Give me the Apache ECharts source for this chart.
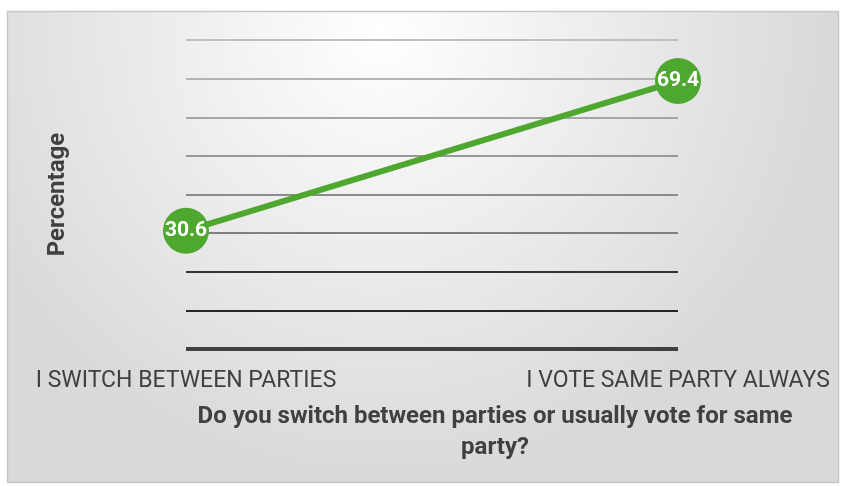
<!DOCTYPE html>
<html><head><meta charset="utf-8">
<script src="https://cdn.jsdelivr.net/npm/echarts@6/dist/echarts.min.js"></script>
<style>html,body{margin:0;padding:0;background:#fff}#c{width:845px;height:486px}</style>
</head><body><div id="c"></div>
<script>
const categories = ['I SWITCH BETWEEN PARTIES', 'I VOTE SAME PARTY ALWAYS'];
const values = [30.6, 69.4];
const xTitle = 'Do you switch between parties or usually vote for same\nparty?';
const yTitle = 'Percentage';

const chart = echarts.init(document.getElementById('c'));
chart.setOption({
  animation: false,
  graphic: [{
    type: 'rect', z: -10, silent: true,
    shape: { x: 7.5, y: 11.5, width: 831, height: 471 },
    style: {
      fill: { type: 'radial', x: 0.45, y: 0.05, r: 0.95,
        colorStops: [{ offset: 0, color: '#ffffff' }, { offset: 1, color: '#d9d9d9' }] },
      stroke: '#c6c6c6', lineWidth: 1.5
    }
  }],
  grid: { left: 186, right: 167, top: 40, bottom: 137 },
  xAxis: {
    type: 'category', data: categories, boundaryGap: false,
    axisLine: { show: false }, axisTick: { show: false },
    axisLabel: { margin: 21, fontSize: 23, color: '#404040', fontFamily: 'Roboto, sans-serif' },
    name: xTitle, nameLocation: 'middle', nameGap: 52,
    nameTextStyle: { fontSize: 24, fontWeight: 'bold', color: '#404040', lineHeight: 31,
      padding: [0, 0, 0, 126], fontFamily: 'Roboto, sans-serif' }
  },
  yAxis: {
    type: 'value', min: 0, max: 80, interval: 10,
    axisLabel: { show: false }, axisTick: { show: false },
    axisLine: { show: false },
    splitLine: { show: true, lineStyle: { width: 2,
      color: ['#404040', '#262626', '#333333', '#7f7f7f', '#8c8c8c', '#999999', '#a6a6a6', '#b3b3b3', '#bfbfbf'] } },
    name: yTitle, nameLocation: 'middle', nameGap: 116,
    nameTextStyle: { fontSize: 24, fontWeight: 'bold', color: '#404040', fontFamily: 'Roboto, sans-serif' }
  },
  series: [{
    type: 'line', data: values,
    symbol: 'circle', symbolSize: 46,
    lineStyle: { color: '#4ea72e', width: 6 },
    itemStyle: { color: '#4ea72e' },
    label: { show: true, position: 'inside', color: '#ffffff', fontSize: 21, fontWeight: 'bold',
      fontFamily: 'Roboto, sans-serif', formatter: p => p.value.toFixed(1) }
  }, {
    type: 'line', data: [0, 0], symbol: 'none', silent: true,
    lineStyle: { color: '#404040', width: 4 }, z: 1
  }]
});
</script></body></html>
